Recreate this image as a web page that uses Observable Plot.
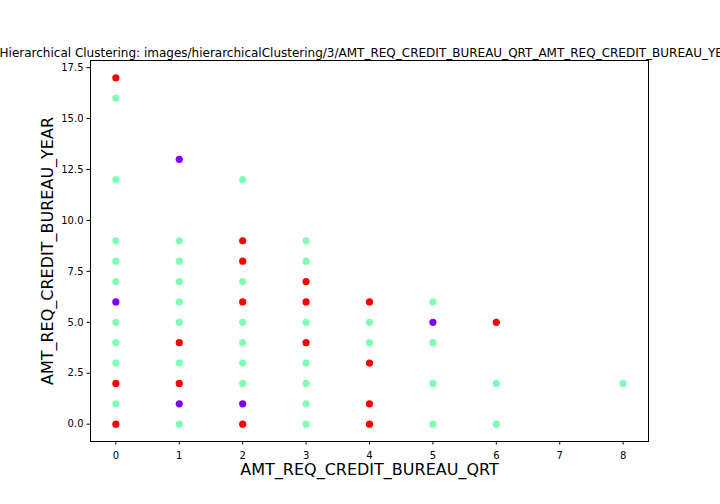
<!DOCTYPE html>
<html><head><meta charset="utf-8">
<script src="https://cdn.jsdelivr.net/npm/d3@7"></script>
<script src="https://cdn.jsdelivr.net/npm/@observablehq/plot@0.6"></script>
<style>body{margin:0;background:#fff;overflow:hidden}</style>
</head><body><div id="chart"></div>
<script>
const titleText = "Hierarchical Clustering: images/hierarchicalClustering/3/AMT_REQ_CREDIT_BUREAU_QRT_AMT_REQ_CREDIT_BUREAU_YEAR";
const xLabel = "AMT_REQ_CREDIT_BUREAU_QRT";
const yLabel = "AMT_REQ_CREDIT_BUREAU_YEAR";
const xTicks = [0,1,2,3,4,5,6,7,8];
const yTicks = [0,2.5,5,7.5,10,12.5,15,17.5];
// points: x (QRT), y (YEAR), cluster (0 purple, 1 green, 2 red)
const xs = [0,0,0, 1, 2,
  0,0,0,0,0,0,0,0,0,0,
  1,1,1,1,1,1,1,1,1,1,
  2,2,2,2,2,2,2,2,2,2,
  3,3,3,3,3,3,3,3,3,3,
  4,4,4,4,4,4,
  5,5,5,5,5,
  6,6,6,
  8];
const ys = [17,16,12, 13, 12,
  9,8,7,6,5,4,3,2,1,0,
  9,8,7,6,5,4,3,2,1,0,
  9,8,7,6,5,4,3,2,1,0,
  9,8,7,6,5,4,3,2,1,0,
  6,5,4,3,1,0,
  6,5,4,2,0,
  5,2,0,
  2];
const clusters = [2,1,1, 0, 1,
  1,1,1,0,1,1,1,2,1,2,
  1,1,1,1,1,2,1,2,0,1,
  2,2,1,2,1,1,1,1,0,2,
  1,1,2,2,1,2,1,1,1,1,
  2,1,1,2,2,2,
  1,0,1,1,1,
  2,1,1,
  1];
const palette = ["#8000ff","#80ffb4","#ff0000"];
const data = xs.map((x,i)=>({x, y: ys[i], c: clusters[i]}));

const xDomain = [-0.4, 8.4];
const yDomain = [-0.85, 17.85];
const font = "DejaVu Sans, sans-serif";
const chart = Plot.plot({
  width: 720, height: 504,
  marginLeft: 90, marginRight: 72, marginTop: 60, marginBottom: 63,
  style: {fontFamily: font, background: "#fff", color: "#000"},
  x: {domain: xDomain},
  y: {domain: yDomain},
  marks: [
    Plot.frame({stroke: "#000", strokeWidth: 1}),
    Plot.axisX({ticks: xTicks, tickSize: 3.5, tickPadding: 7, fontSize: 10, label: null, tickFormat: d=>String(d)}),
    Plot.axisY({ticks: yTicks, tickSize: 3.5, tickPadding: 3.5, fontSize: 10, label: null, tickFormat: d=>d.toFixed(1)}),
    Plot.dot(data, {x: "x", y: "y", fill: d=>palette[d.c], r: 3.6, stroke: "none"}),
    Plot.text([titleText], {frameAnchor: "top", dy: -12, fontSize: 12, text: d=>d, textAnchor: "middle"}),
    Plot.text([xLabel], {frameAnchor: "bottom", dy: 33, fontSize: 16, text: d=>d}),
    Plot.text([yLabel], {x: () => xDomain[0] - 43 * (xDomain[1]-xDomain[0]) / 558, y: () => (yDomain[0]+yDomain[1])/2, rotate: -90, fontSize: 16, text: d=>d, clip: false})
  ]
});
document.getElementById("chart").append(chart);
</script>
</body></html>
